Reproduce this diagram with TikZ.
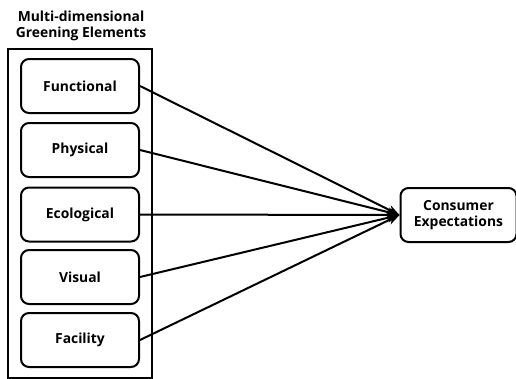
\documentclass[tikz,border=0pt]{standalone}
\usepackage{fontspec}
\setmainfont{Open Sans}
\usetikzlibrary{arrows.meta}

\tikzset{every picture/.style={line width=1.5pt}}

\begin{document}
\begin{tikzpicture}[x=0.75pt,y=0.75pt,yscale=-1,xscale=1]
\tikzset{elembox/.style={draw,rounded corners=6pt,minimum width=88.5pt,minimum height=40.5pt,inner sep=0pt,align=center,font=\fontsize{10.4}{12}\selectfont\bfseries},
  linkarrow/.style={-{Stealth[length=9pt,width=7pt]}}}
\useasboundingbox (0,0) rectangle (516,378);

% Text Node
\node [align=center,inner sep=0pt,font=\fontsize{10.4}{12}\selectfont\bfseries] (title) at (81,26) {Multi-dimensional\\Greening Elements};
% Outer frame
\draw (8,49) rectangle (152,377.5);

% Element nodes
\node [elembox] (functional) at (80,86) {Functional};
\node [elembox] (physical) at (80,150) {Physical};
\node [elembox] (ecological) at (80,214.5) {Ecological};
\node [elembox] (visual) at (80,277) {Visual};
\node [elembox] (facility) at (80,340) {Facility};
% Outcome node
\node [elembox,minimum width=87pt] (consumer) at (458.5,215) {Consumer\\Expectations};

% Connection
\draw [linkarrow] (functional.east) -- (consumer.west);
\draw [linkarrow] (physical.east) -- (consumer.west);
\draw [linkarrow] (ecological.east) -- (consumer.west);
\draw [linkarrow] (visual.east) -- (consumer.west);
\draw [linkarrow] (facility.east) -- (consumer.west);

\end{tikzpicture}
\end{document}
